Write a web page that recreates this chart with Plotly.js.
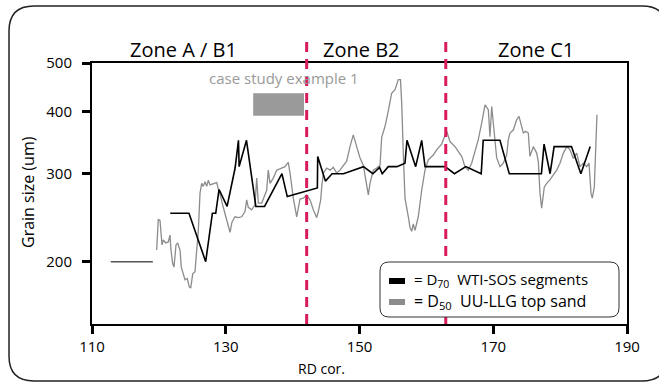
<!DOCTYPE html>
<html>
<head>
<meta charset="utf-8">
<script src="https://cdn.plot.ly/plotly-3.0.1.min.js"></script>
<style>
html,body{margin:0;padding:0;background:#fff;}
#chart{width:659px;height:382px;}
</style>
</head>
<body>
<div id="chart"></div>
<script>
// ---- data ----
var xTicks = [110, 130, 150, 170, 190];
var yTicks = [200, 300, 400, 500];
var zoneNames = ["Zone A / B1", "Zone B2", "Zone C1"];
var zoneLabelX = [123.65, 150.3, 176.4];
var zoneBounds = [142.1, 162.9];
var caseStudyX = [134.1, 141.7];
var caseStudyY = [392, 435];
var caseStudyLabel = "case study example 1";

var leadInX = [112.8, 119.1];
var leadInY = [200, 200];

var d70X = [121.7,124.5,127.0,128.0,128.5,129.0,130.2,131.4,131.9,132.0,133.1,134.5,135.8,138.4,139.2,142.1,143.7,143.75,144.9,145.9,147.6,150.6,152.0,153.0,153.4,154.3,155.6,156.8,157.1,158.4,159.3,159.8,162.8,164.2,165.9,168.2,168.5,171.0,172.4,177.2,177.6,178.5,179.1,181.7,183.1,184.5];
var d70Y = [250,250,200,250,250,279,258,308,350,310,350,258,258,300,270,277,281,325,290,300,300,310,300,309,300,310,310,315,350,310,350,310,310,300,310,300,350,350,300,300,344,300,340,340,300,340];

var d50X = [119.67,119.91,120.17,120.32,120.47,120.66,121.02,121.41,121.66,121.81,122.07,122.26,122.56,122.81,123.16,123.35,123.65,123.91,124.25,124.55,124.76,125.06,125.40,125.66,125.90,126.15,126.40,126.64,126.90,127.15,127.39,127.64,128.14,128.65,128.99,129.24,129.63,130.04,130.38,130.64,130.93,131.38,131.88,132.39,132.88,133.13,133.37,133.88,134.37,134.63,134.87,135.38,136.12,136.36,136.62,137.11,137.62,138.37,138.86,139.35,139.61,140.10,140.61,141.10,141.60,142.11,142.60,143.09,143.60,143.84,144.20,144.35,144.59,145.10,145.59,146.08,146.59,147.08,147.58,148.08,148.58,149.07,149.58,150.07,150.57,151.08,151.32,151.57,152.06,152.57,153.07,153.32,153.81,154.31,154.81,155.31,155.80,156.13,156.31,156.55,156.80,157.30,157.55,157.81,158.04,158.30,158.79,159.30,159.79,160.29,161.04,161.53,162.28,163.04,163.53,164.28,164.77,165.28,165.77,166.27,166.77,167.27,167.76,168.27,168.77,169.26,169.51,169.77,170.26,170.51,171.01,171.50,172.01,172.25,172.50,173.00,173.51,173.85,174.15,174.50,174.85,175.24,175.49,175.99,176.50,176.74,176.99,177.24,177.63,177.99,178.49,178.98,179.49,179.98,180.48,180.99,181.48,181.97,182.48,182.97,183.47,183.97,184.32,184.62,184.81,185.11,185.32,185.51];
var d50Y = [211,243,242,226,216,221,218,219,226,211,198,195,216,218,211,195,189,184,185,178,177,189,191,209,231,274,287,283,289,283,291,285,287,288,276,270,257,245,237,229,240,246,245,246,252,266,257,254,260,294,262,262,278,305,287,294,305,308,310,316,301,268,246,267,268,272,266,254,245,252,266,282,301,308,305,309,301,305,312,318,340,359,340,323,312,287,272,287,305,308,312,355,373,401,435,442,463,463,416,330,268,246,234,230,238,231,246,278,305,320,327,335,344,365,348,340,333,325,310,305,315,333,351,379,412,403,356,409,356,323,310,315,327,351,362,367,385,391,377,362,365,362,325,340,330,317,274,256,282,287,292,298,305,315,330,340,335,322,330,310,315,310,315,274,268,282,335,394];

var legendLabels = ["= D<sub>70</sub>\u00a0\u00a0WTI-SOS segments", "= D<sub>50</sub>\u00a0\u00a0UU-LLG top sand"];

// ---- layout helpers (pixel geometry of the figure) ----
var W = 659, H = 382, mL = 92, mR = 32, mT = 63, mB = 58;
var pw = W - mL - mR, ph = H - mT - mB;
function px2x(p){ return (p - mL) / pw; }
function py2y(p){ return (H - mB - p) / ph; }
function roundRect(x0p, y0p, x1p, y1p, r){
  var ax = px2x(x0p), bx = px2x(x1p), ay = py2y(y0p), by = py2y(y1p);
  var rx = r / pw, ry = r / ph;
  return 'M' + (ax+rx) + ',' + ay +
    ' L' + (bx-rx) + ',' + ay + ' Q' + bx + ',' + ay + ' ' + bx + ',' + (ay-ry) +
    ' L' + bx + ',' + (by+ry) + ' Q' + bx + ',' + by + ' ' + (bx-rx) + ',' + by +
    ' L' + (ax+rx) + ',' + by + ' Q' + ax + ',' + by + ' ' + ax + ',' + (by+ry) +
    ' L' + ax + ',' + (ay-ry) + ' Q' + ax + ',' + ay + ' ' + (ax+rx) + ',' + ay + ' Z';
}

var FONT = "Open Sans, sans-serif";

var traces = [
  {x: leadInX, y: leadInY, type: 'scatter', mode: 'lines', line: {color: '#555555', width: 1.5}, showlegend: false, hoverinfo: 'skip'},
  {x: d50X, y: d50Y, type: 'scatter', mode: 'lines', line: {color: '#8c8c8c', width: 1.3}, name: 'D50', showlegend: false},
  {x: d70X, y: d70Y, type: 'scatter', mode: 'lines', line: {color: '#000000', width: 1.6}, name: 'D70', showlegend: false}
];

var shapes = [];
// outer rounded frame
shapes.push({type: 'path', xref: 'paper', yref: 'paper', path: roundRect(9, 6, 667, 381, 25), line: {color: '#222222', width: 1.5}, fillcolor: 'rgba(0,0,0,0)', layer: 'below'});
// zone boundaries
zoneBounds.forEach(function(b){
  shapes.push({type: 'line', xref: 'x', yref: 'paper', x0: b, x1: b, y0: 0, y1: py2y(40), line: {color: '#d81b5c', width: 3, dash: '10px,7px'}});
});
// case study box
shapes.push({type: 'rect', xref: 'x', yref: 'y', x0: caseStudyX[0], x1: caseStudyX[1], y0: caseStudyY[0], y1: caseStudyY[1], fillcolor: '#9a9a9a', line: {width: 0}});
// legend box
shapes.push({type: 'path', xref: 'paper', yref: 'paper', path: roundRect(380, 262, 619, 317, 9), line: {color: '#333333', width: 1}, fillcolor: '#ffffff'});
// legend swatches
shapes.push({type: 'rect', xref: 'paper', yref: 'paper', x0: px2x(389), x1: px2x(405), y0: py2y(284), y1: py2y(278), fillcolor: '#000000', line: {width: 0}});
shapes.push({type: 'rect', xref: 'paper', yref: 'paper', x0: px2x(389), x1: px2x(405), y0: py2y(305), y1: py2y(299), fillcolor: '#8c8c8c', line: {width: 0}});

var annotations = [];
zoneNames.forEach(function(n, i){
  annotations.push({text: n, x: zoneLabelX[i], xref: 'x', y: py2y(49), yref: 'paper', showarrow: false, xanchor: 'center', yanchor: 'middle', font: {family: FONT, size: 20, color: '#000'}});
});
annotations.push({text: caseStudyLabel, x: (caseStudyX[0] + caseStudyX[1]) / 2 + 0.8, xref: 'x', y: py2y(78), yref: 'paper', showarrow: false, xanchor: 'center', yanchor: 'middle', font: {family: FONT, size: 15, color: '#9a9a9a'}});
annotations.push({text: legendLabels[0], x: px2x(412), xref: 'paper', y: py2y(280), yref: 'paper', showarrow: false, xanchor: 'left', yanchor: 'middle', font: {family: FONT, size: 15, color: '#000'}});
annotations.push({text: legendLabels[1], x: px2x(412), xref: 'paper', y: py2y(301), yref: 'paper', showarrow: false, xanchor: 'left', yanchor: 'middle', font: {family: FONT, size: 16, color: '#000'}});
// axis titles
annotations.push({text: 'RD cor.', x: px2x(321), xref: 'paper', y: py2y(368), yref: 'paper', showarrow: false, xanchor: 'center', yanchor: 'middle', font: {family: FONT, size: 14, color: '#000'}});
annotations.push({text: 'Grain size (um)', x: px2x(28), xref: 'paper', y: py2y(192), yref: 'paper', showarrow: false, xanchor: 'center', yanchor: 'middle', textangle: -90, font: {family: FONT, size: 16, color: '#000'}});

var layout = {
  width: W, height: H,
  margin: {l: mL, r: mR, t: mT, b: mB, pad: 0},
  paper_bgcolor: '#ffffff', plot_bgcolor: '#ffffff',
  showlegend: false,
  font: {family: FONT, color: '#000'},
  xaxis: {
    range: [110, 190], tickvals: xTicks, ticktext: xTicks.map(String),
    showgrid: false, zeroline: false, showline: true, mirror: true,
    linecolor: '#000', linewidth: 2, ticks: 'outside', ticklen: 8, tickwidth: 3, tickcolor: '#000',
    tickfont: {family: FONT, size: 15, color: '#000'}
  },
  yaxis: {
    type: 'log', range: [Math.log10(150), Math.log10(500)], tickvals: yTicks, ticktext: yTicks.map(String),
    showgrid: false, zeroline: false, showline: true, mirror: true,
    linecolor: '#000', linewidth: 2, ticks: 'outside', ticklen: 8, tickwidth: 3, tickcolor: '#000',
    ticklabelstandoff: 7,
    tickfont: {family: FONT, size: 15, color: '#000'}
  },
  shapes: shapes,
  annotations: annotations
};

Plotly.newPlot('chart', traces, layout, {displayModeBar: false, staticPlot: true});
</script>
</body>
</html>
